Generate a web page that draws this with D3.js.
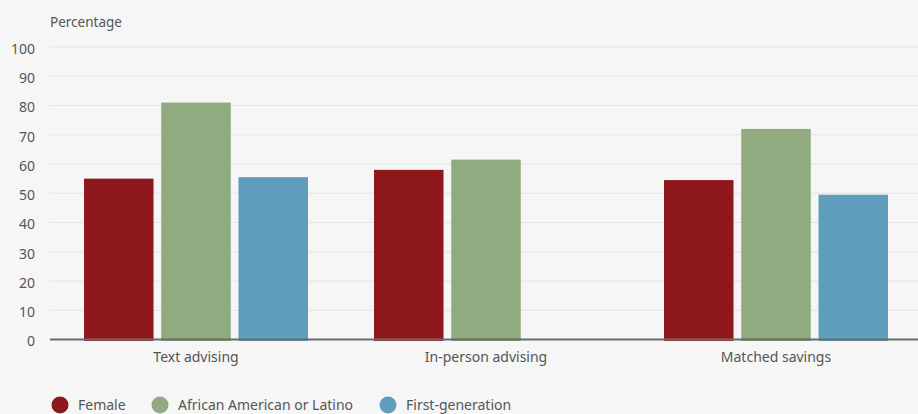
<!DOCTYPE html>
<html>
<head>
<meta charset="utf-8">
<script src="https://cdn.jsdelivr.net/npm/d3@7"></script>
<style>
	html, body { margin: 0; padding: 0; background: #f6f6f6; }
	svg { display: block; font-family: "Noto Sans", "Open Sans", sans-serif; }
</style>
</head>
<body>
<svg class="chart" width="918" height="414"></svg>
<script>
var categories = ["Text advising", "In-person advising", "Matched savings"];
var seriesNames = ["Female", "African American or Latino", "First-generation"];
var female = [55, 58, 54.5];
var afroLatino = [81, 61.5, 72];
var firstGen = [55.5, null, 49.5];
var yTicks = [0, 10, 20, 30, 40, 50, 60, 70, 80, 90, 100];
var colors = ["#8f181c", "#8fab7f", "#5f9dbd"];

var seriesValues = [female, afroLatino, firstGen];

var svg = d3.select(".chart");
var plotLeft = 51, plotRight = 921, plotTop = 47, plotBottom = 339.5;

var x0 = d3.scaleBand().domain(categories).range([plotLeft, plotRight]).paddingInner(0).paddingOuter(0);
var x1 = d3.scaleBand().domain(seriesNames).range([33, x0.bandwidth() - 33]).paddingInner(0.1);
var y = d3.scaleLinear().domain([0, 100]).range([plotBottom, plotTop]);

// grid
svg.append("g")
	.selectAll("line")
	.data(yTicks.slice(1))
	.enter()
	.append("line")
	.attr("x1", 50)
	.attr("x2", 918)
	.attr("y1", d => y(d))
	.attr("y2", d => y(d))
	.style("stroke", "#e4e4e4")
	.style("stroke-width", 1);

// y labels
var yAxis = d3.axisLeft(y).tickValues(yTicks).tickSize(0).tickPadding(0);
var ya = svg.append("g").attr("transform", "translate(35,2)").call(yAxis);
ya.select(".domain").remove();
ya.selectAll("text")
	.style("font-size", "14px")
	.style("fill", "#555")
	.style("font-family", "\"Noto Sans\", sans-serif");

svg.append("text")
	.text("Percentage")
	.attr("x", 50)
	.attr("y", 27)
	.style("font-size", "13.5px")
	.style("fill", "#555");

// bars
var rows = [];
categories.forEach(function(c, i){
	seriesNames.forEach(function(s, j){
		if(seriesValues[j][i] != null){
			rows.push({cat: c, series: s, value: seriesValues[j][i], j: j});
		}
	});
});

svg.append("g")
	.selectAll("rect")
	.data(rows)
	.enter()
	.append("rect")
	.attr("x", d => x0(d.cat) + x1(d.series))
	.attr("width", x1.bandwidth())
	.attr("y", d => y(d.value))
	.attr("height", d => y(0) - y(d.value) + 1.5)
	.style("fill", d => colors[d.j]);

// baseline
svg.append("line")
	.attr("x1", 50)
	.attr("x2", 918)
	.attr("y1", y(0))
	.attr("y2", y(0))
	.style("stroke", "#6a6a6a")
	.style("stroke-width", 2);

// x labels
var xAxis = d3.axisBottom(x0).tickSize(0).tickPadding(0);
var xa = svg.append("g").attr("transform", "translate(0," + (y(0) + 13) + ")").call(xAxis);
xa.select(".domain").remove();
xa.selectAll("text")
	.style("font-size", "14px")
	.style("fill", "#555")
	.style("font-family", "\"Noto Sans\", sans-serif");

// legend
var legendX = [60, 160, 388];
var lg = svg.append("g")
	.selectAll("g")
	.data(seriesNames)
	.enter()
	.append("g")
	.attr("transform", (d, i) => "translate(" + legendX[i] + ",405)");
lg.append("circle")
	.attr("r", 8.5)
	.style("fill", (d, i) => colors[i]);
lg.append("text")
	.text(d => d)
	.attr("x", 18)
	.attr("y", 5)
	.style("font-size", "14px")
	.style("fill", "#555");
</script>
</body>
</html>
